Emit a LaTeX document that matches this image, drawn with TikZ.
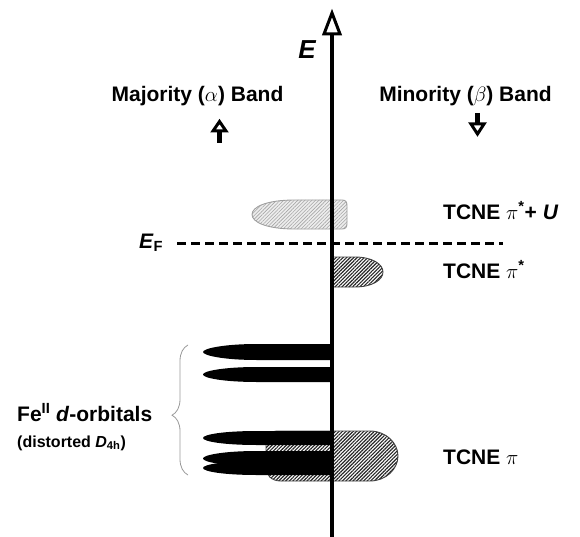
\documentclass[tikz,border=0pt]{standalone}
\usepackage{fontspec}
\setmainfont{Liberation Sans}
\usetikzlibrary{patterns.meta,decorations.pathreplacing}
\newcommand\felobe[3]{\fill[black] (332,#1) -- (257,#1) .. controls (224,#1) and (203,#2-3.5) .. (203,#2) .. controls (203,#2+3.5) and (224,#3) .. (257,#3) -- (332,#3) -- cycle;}
\begin{document}
\begin{tikzpicture}[x=1pt,y=-1pt,
  lbl/.style={font=\fontsize{21}{25}\selectfont\bfseries, inner sep=0pt},
  sublbl/.style={font=\fontsize{16}{19}\selectfont\bfseries, inner sep=0pt},
  lightband/.style={draw=gray!75, line width=0.9pt, preaction={fill=gray!14},
    pattern={Lines[angle=45,distance=2.5pt,line width=0.6pt]}, pattern color=gray!70},
  darkband/.style={draw=black!75, line width=0.9pt, preaction={fill=white},
    pattern={Lines[angle=45,distance=2.5pt,line width=1.15pt]}, pattern color=black!85},
  openhead/.style={line width=3pt, fill=white, line join=miter},
  bracestyle/.style={draw=gray!80, line width=0.8pt,
    decorate, decoration={brace, amplitude=16pt, aspect=0.46}}]
\useasboundingbox (0,0) rectangle (580,537);

% TCNE pi band (behind Fe lobes)
\draw[darkband] (278,431) -- (370,431) .. controls (386,431) and (398,443) .. (398,456)
  .. controls (398,469) and (386,481) .. (370,481) -- (281,481)
  .. controls (271,481) and (266,475) .. (266,467) -- (266,444)
  .. controls (266,436) and (270,431) .. (278,431) -- cycle;

% Fe d-orbital lobes
\felobe{344}{352}{360}
\felobe{367}{374.5}{382}
\felobe{431}{438}{445}
\felobe{451}{458.5}{466}
\felobe{461}{468}{475}

% TCNE pi* + U band
\draw[lightband] (295,200) -- (342,200) .. controls (346,200) and (347,202) .. (347,206)
  -- (347,223) .. controls (347,227) and (346,229) .. (342,229) -- (295,229)
  .. controls (266,229) and (252,222) .. (252,214.5)
  .. controls (252,207) and (266,200) .. (295,200) -- cycle;

% TCNE pi* band
\draw[darkband] (332,257) -- (355,257) .. controls (372,257) and (383,264) .. (383,272)
  .. controls (383,280) and (372,287) .. (355,287) -- (332,287) -- cycle;

% Fermi level
\coordinate (ef0) at (177,243);
\coordinate (ef1) at (503,243);
\draw[line width=3pt, dash pattern=on 9pt off 5pt] (ef0) -- (ef1);

% energy axis
\coordinate (axbot) at (332,537);
\coordinate (axtop) at (332,34);
\draw[line width=3.6pt] (axbot) -- (axtop);
\draw[openhead] (332,13) -- (340,34) -- (324,34) -- cycle;

% spin arrows
\coordinate (upbot) at (219.5,143);
\coordinate (uptop) at (219.5,131);
\draw[line width=5.5pt] (upbot) -- (uptop);
\draw[openhead] (219.5,121.5) -- (226,131) -- (213,131) -- cycle;
\coordinate (dntop) at (477.5,113);
\coordinate (dnbot) at (477.5,124);
\draw[line width=5.5pt] (dntop) -- (dnbot);
\draw[openhead] (477.5,134) -- (484,124) -- (471,124) -- cycle;

% labels
\node[inner sep=0pt, font=\fontsize{26}{30}\selectfont\bfseries\itshape] (E) at (307,50) {E};
\node[lbl, anchor=base] (maj) at (197.5,102) {Majority ($\alpha$) Band};
\node[lbl, anchor=base] (min) at (465.5,102) {Minority ($\beta$) Band};
\node[lbl, anchor=base west] (pu) at (443,219) {TCNE $\pi$\textsuperscript{*}+ \textit{U}};
\node[lbl, anchor=base west] (ps) at (443,278) {TCNE $\pi$\textsuperscript{*}};
\node[lbl, anchor=base west] (pp) at (443,464) {TCNE $\pi$};
\node[lbl, anchor=base west] (EF) at (139,248) {\textit{E}\textsubscript{F}};
\node[lbl, anchor=base west] (fe) at (17,421) {Fe\textsuperscript{II} \textit{d}-orbitals};
\node[sublbl, anchor=base west] (dist) at (17,447) {(distorted \textit{D}\textsubscript{4h})};

% brace
\coordinate (brb) at (188,475);
\coordinate (brt) at (188,345);
\draw[bracestyle] (brb) -- (brt);
\end{tikzpicture}
\end{document}
